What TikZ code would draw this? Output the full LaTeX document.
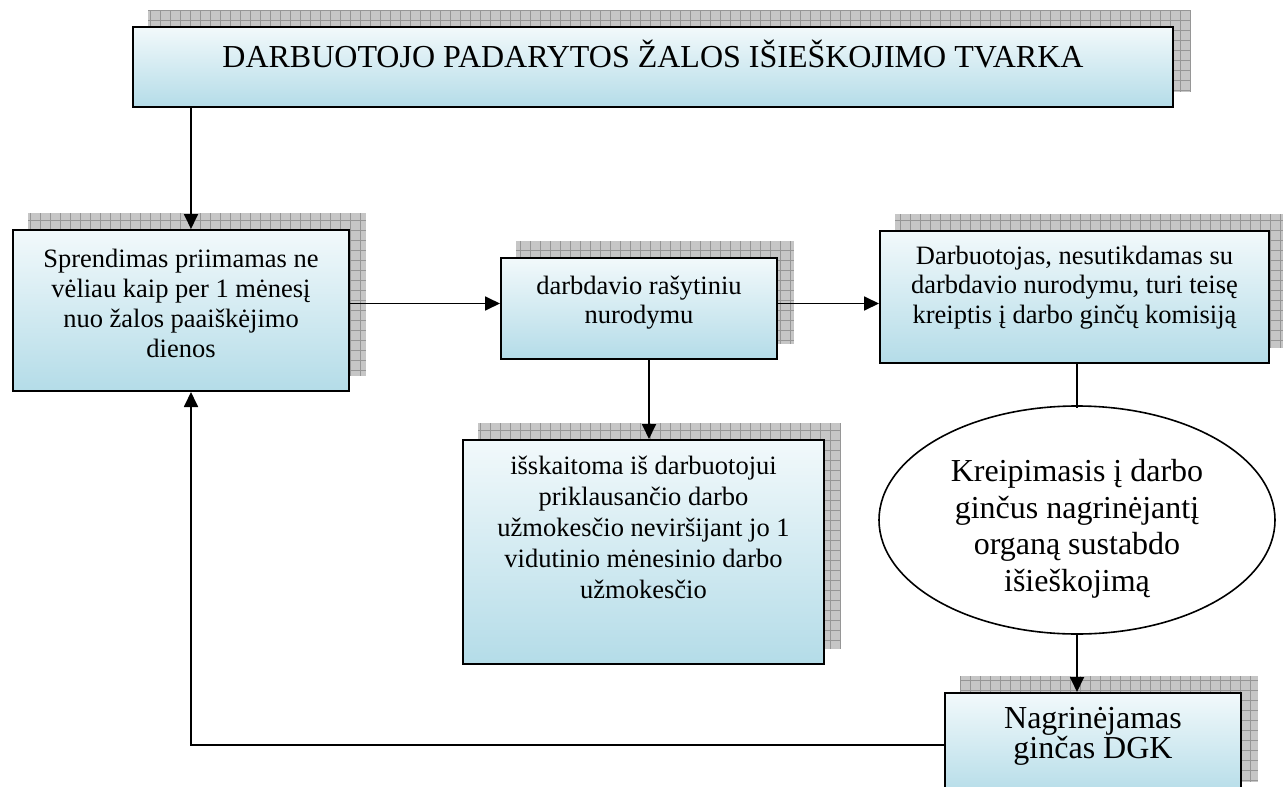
\documentclass[tikz,border=0pt]{standalone}
\usepackage{fontspec}
\setmainfont{Liberation Serif}
\usetikzlibrary{arrows.meta}
\usetikzlibrary{calc}
\usetikzlibrary{shapes.geometric}
\usetikzlibrary{backgrounds}

\definecolor{boxtop}{RGB}{242,249,251}
\definecolor{boxbottom}{RGB}{180,220,232}
\definecolor{shadowfill}{RGB}{198,198,198}
\definecolor{shadowline}{RGB}{150,150,150}

% box text: width, height, first baseline, lines
\newcommand{\btext}[4]{\parbox[c][#2][t]{#1}{\centering\rule{0pt}{#3}#4}}

\tikzset{
  flowbox/.style={draw, line width=2pt, top color=boxtop, bottom color=boxbottom, inner sep=0pt, anchor=north west},
  flowarrow/.style={line width=1.8pt, -{Triangle[length=15pt,width=14pt]}},
  flowline/.style={line width=1.8pt},
  shadowgrid/.style={draw=shadowline, line width=0.8pt},
}

\begin{document}
\begin{tikzpicture}[x=1pt,y=1pt,yscale=-1,xscale=1]
\useasboundingbox (0,0) rectangle (1283,787);

% Text Node
\node[flowbox, font=\fontsize{32}{36}\selectfont] (title) at (132,26) {\btext{1040pt}{80pt}{40pt}{DARBUOTOJO PADARYTOS ŽALOS IŠIEŠKOJIMO TVARKA}};
% Text Node
\node[flowbox, font=\fontsize{26.5}{30}\selectfont] (decide) at (12,229) {\btext{336pt}{161pt}{37pt}{Sprendimas priimamas ne\\ vėliau kaip per 1 mėnesį\\ nuo žalos paaiškėjimo\\ dienos}};
% Text Node
\node[flowbox, font=\fontsize{26.5}{29}\selectfont] (order) at (500,257) {\btext{276pt}{101pt}{36pt}{darbdavio rašytiniu\\ nurodymu}};
% Text Node
\node[flowbox, font=\fontsize{26.5}{31}\selectfont] (deduct) at (462,439) {\btext{361pt}{224pt}{34pt}{išskaitoma iš darbuotojui\\ priklausančio darbo\\ užmokesčio neviršijant jo 1\\ vidutinio mėnesinio darbo\\ užmokesčio}};
% Text Node
\node[flowbox, font=\fontsize{26.5}{29.5}\selectfont] (object) at (879,230) {\btext{389pt}{132pt}{33pt}{Darbuotojas, nesutikdamas su\\ darbdavio nurodymu, turi teisę\\ kreiptis į darbo ginčų komisiją}};
% Text Node
\node[flowbox, font=\fontsize{32}{29}\selectfont] (dgk) at (944,692) {\btext{296pt}{104pt}{35pt}{Nagrinėjamas\\ ginčas DGK}};

%Shape: Ellipse
\node[ellipse, draw, line width=1.6pt, fill=white, minimum width=396pt, minimum height=228pt, inner sep=0pt, align=center, font=\fontsize{32}{36.7}\selectfont] (appeal) at (1077,520) {\rule{0pt}{40pt}Kreipimasis į darbo\\ ginčus nagrinėjantį\\ organą sustabdo\\ išieškojimą};

%Shape: Shadows
\begin{scope}[on background layer]
\foreach \n in {title,decide,order,deduct,object,dgk}{
  \fill[shadowfill] ($(\n.south west)+(16,-16)$) rectangle ($(\n.north east)+(16,-16)$);
  \draw[shadowgrid, step=10pt] ($(\n.south west)+(16,-16)$) grid ($(\n.north east)+(16,-16)$);
}
\end{scope}

%Straight Lines
\coordinate (inA) at ($(decide.north)+(10,0)$);
\coordinate (inB) at ($(decide.south)+(10,0)$);
\coordinate (inC) at ($(order.south)+(10,0)$);
\coordinate (row) at ($(order.west)+(0,-5)$);
\draw[flowarrow] (title.south -| inA) -- (inA);
\draw[flowarrow] (decide.east |- row) -- (row);
\draw[flowarrow] (order.east |- row) -- (object.west |- row);
\draw[flowarrow] (inC) -- (deduct.north -| inC);
\draw[flowline] (object.south -| appeal.north) -- ($(appeal.north)+(0,3)$);
\draw[flowarrow] (appeal.south) -- (dgk.north -| appeal.south);
\draw[flowarrow] (dgk.west) -| (inB);

\end{tikzpicture}
\end{document}
